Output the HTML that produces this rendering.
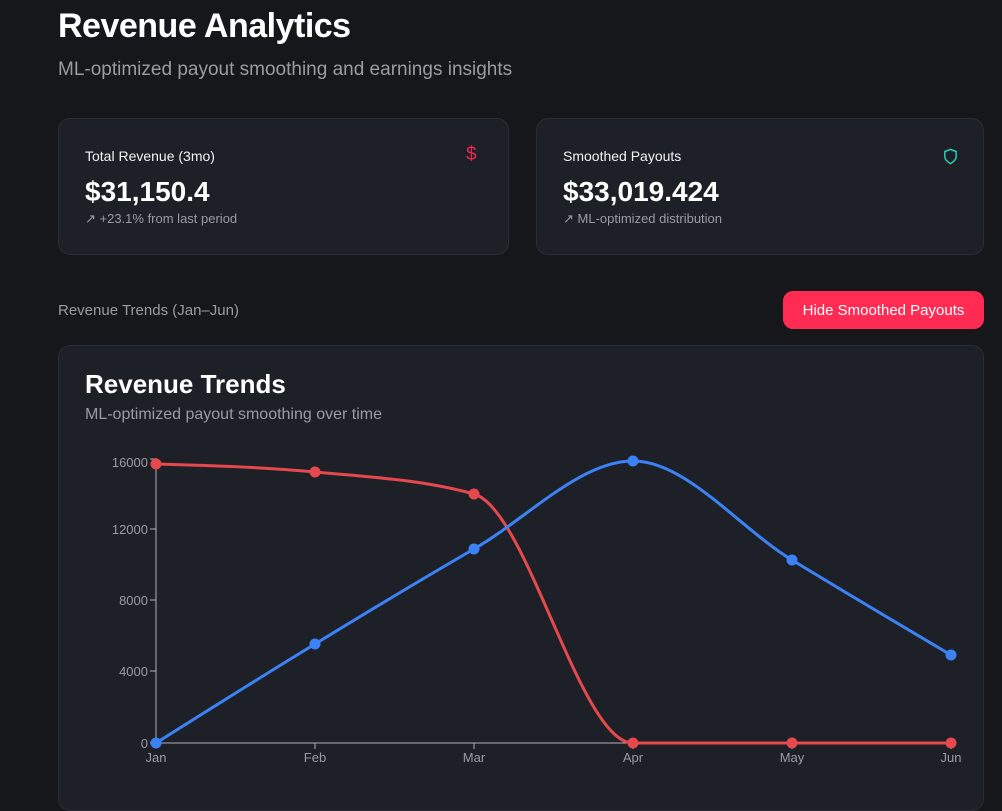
<!DOCTYPE html>
<html><head><meta charset="utf-8"><style>
*{margin:0;padding:0;box-sizing:border-box}
body{width:1002px;height:811px;overflow:hidden;background:#16171b;font-family:"Liberation Sans",sans-serif;color:#fff;position:relative}
.abs{position:absolute;white-space:nowrap}
.card{position:absolute;background:#1e2027;border:1px solid #2b2d35;border-radius:12px}
</style></head><body>
<div class="abs" style="left:58px;top:7px;font-size:34px;font-weight:bold;letter-spacing:-0.5px">Revenue Analytics</div>
<div class="abs" style="left:58px;top:59px;font-size:19px;color:#9a9ca3">ML-optimized payout smoothing and earnings insights</div>

<div class="card" style="left:58px;top:118px;width:451px;height:137px"></div>
<div class="abs" style="left:85px;top:148px;font-size:14px;color:#f2f2f2">Total Revenue (3mo)</div>
<div class="abs" style="left:466px;top:144px;font-size:19px;color:#e8284c">$</div>
<div class="abs" style="left:85px;top:176px;font-size:28px;font-weight:bold">$31,150.4</div>
<div class="abs" style="left:85px;top:211px;font-size:13px;color:#9a9ca3">↗ +23.1% from last period</div>

<div class="card" style="left:536px;top:118px;width:448px;height:137px"></div>
<div class="abs" style="left:563px;top:148px;font-size:14px;color:#f2f2f2">Smoothed Payouts</div>
<svg class="abs" style="left:942px;top:148px" width="17" height="17" viewBox="0 0 24 24" fill="none" stroke="#2dd4bf" stroke-width="2"><path d="M12 22s8-4 8-10V5l-8-3-8 3v7c0 6 8 10 8 10z"/></svg>
<div class="abs" style="left:563px;top:176px;font-size:28px;font-weight:bold">$33,019.424</div>
<div class="abs" style="left:563px;top:211px;font-size:13px;color:#9a9ca3">↗ ML-optimized distribution</div>

<div class="abs" style="left:58px;top:302px;font-size:15px;color:#9a9ca3">Revenue Trends (Jan–Jun)</div>
<div class="abs" style="left:783px;top:291px;width:201px;height:38px;background:#ff2b52;border-radius:10px;font-size:15px;line-height:40px;text-align:center">Hide Smoothed Payouts</div>

<div class="card" style="left:58px;top:345px;width:926px;height:466px"></div>
<div class="abs" style="left:85px;top:369px;font-size:26px;font-weight:bold">Revenue Trends</div>
<div class="abs" style="left:85px;top:406px;font-size:16px;color:#9a9ca3">ML-optimized payout smoothing over time</div>

<svg class="abs" style="left:0;top:0" width="1002" height="811">
<g stroke="#b0b2b8" stroke-width="1" fill="none">
<line x1="156" y1="458" x2="156" y2="743"/><line x1="156" y1="743" x2="951" y2="743"/>
<line x1="150" y1="459" x2="156" y2="459"/><line x1="150" y1="529" x2="156" y2="529"/><line x1="150" y1="600" x2="156" y2="600"/><line x1="150" y1="671" x2="156" y2="671"/><line x1="150" y1="743" x2="156" y2="743"/>
<line x1="315" y1="743" x2="315" y2="749"/><line x1="474" y1="743" x2="474" y2="749"/><line x1="633" y1="743" x2="633" y2="749"/><line x1="792" y1="743" x2="792" y2="749"/><line x1="951" y1="743" x2="951" y2="749"/>
</g>
<g fill="#9a9ca3" font-size="13" font-family="Liberation Sans,sans-serif" text-anchor="end">
<text x="148" y="467">16000</text><text x="148" y="534">12000</text><text x="148" y="605">8000</text><text x="148" y="676">4000</text><text x="148" y="748">0</text>
</g>
<g fill="#9a9ca3" font-size="13" font-family="Liberation Sans,sans-serif" text-anchor="middle">
<text x="156" y="762">Jan</text><text x="315" y="762">Feb</text><text x="474" y="762">Mar</text><text x="633" y="762">Apr</text><text x="792" y="762">May</text><text x="951" y="762">Jun</text>
</g>
<path d="M156,464 C209,465.5 262,467 315,472 C368,477 421,479.3 474,494 C527,508.7 580,743 633,743 L951,743" fill="none" stroke="#e5484d" stroke-width="3"/>
<path d="M156,743 C209,709.6 262,676.3 315,644 C368,611.7 421,579.5 474,549 C527,518.5 580,461 633,461 C686,461 739,527.7 792,560 C845,592.3 898,623.7 951,655" fill="none" stroke="#3b82f6" stroke-width="3"/>
<g fill="#e5484d"><circle cx="156" cy="464" r="5.5"/><circle cx="315" cy="472" r="5.5"/><circle cx="474" cy="494" r="5.5"/><circle cx="633" cy="743" r="5.5"/><circle cx="792" cy="743" r="5.5"/><circle cx="951" cy="743" r="5.5"/></g>
<g fill="#3b82f6"><circle cx="156" cy="743" r="5.5"/><circle cx="315" cy="644" r="5.5"/><circle cx="474" cy="549" r="5.5"/><circle cx="633" cy="461" r="5.5"/><circle cx="792" cy="560" r="5.5"/><circle cx="951" cy="655" r="5.5"/></g>
</svg>
</body></html>
